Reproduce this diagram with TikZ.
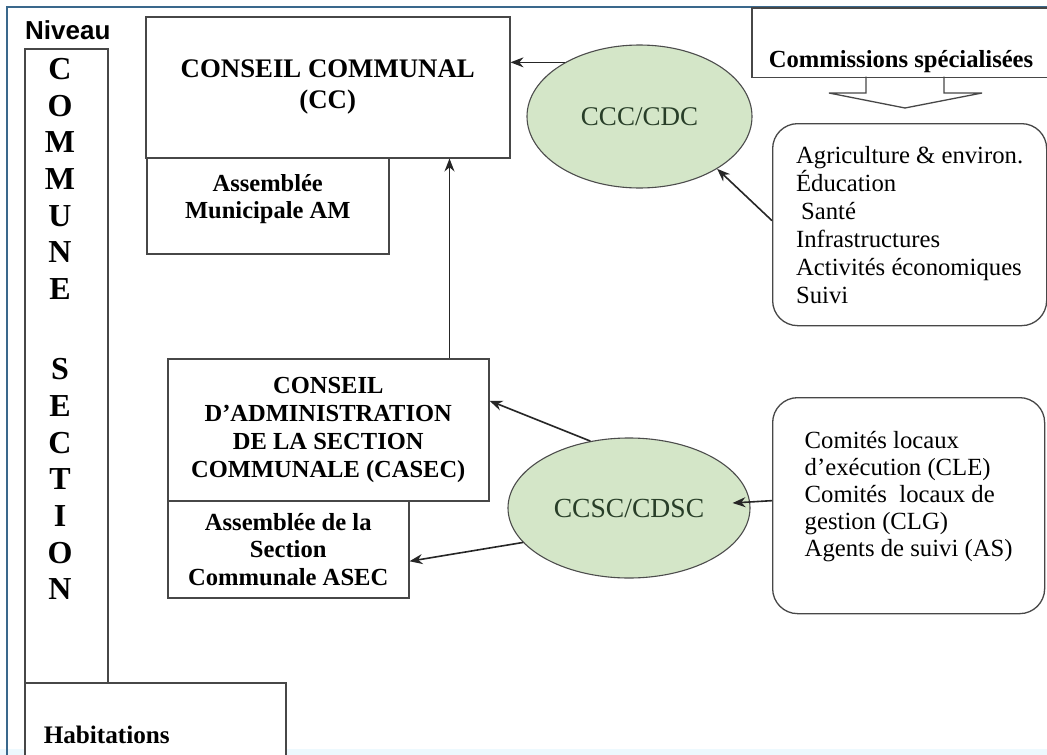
\documentclass[tikz,border=0pt]{standalone}
\usepackage{fontspec}
\setmainfont{Liberation Serif}
\newfontfamily\arialfont{Liberation Sans}
\usepackage{xcolor}
\usetikzlibrary{positioning,shapes,arrows,arrows.meta}

\definecolor{cadrebleu}{RGB}{58,104,140}
\definecolor{vertpale}{RGB}{212,230,200}
\definecolor{vertfonce}{RGB}{40,62,40}

\tikzset{
  boite/.style={draw=black!72, line width=1.5pt, fill=white, align=center, inner sep=0pt},
  bulle/.style={ellipse, draw=black!70, line width=1.1pt, fill=vertpale, text=vertfonce, inner sep=0pt},
  cadre/.style={draw=black!72, line width=1.3pt, rounded corners=25pt, fill=white, align=left, inner sep=0pt},
  fleche/.style={-{Stealth[length=13pt,width=10pt]}, line width=1.6pt, draw=black!85},
}

\begin{document}
\begin{tikzpicture}[x=1pt, y=-1pt]
        \useasboundingbox (0,0) rectangle (1047,755);
        \fill[white] (0,0) rectangle (1047,755);
        \fill[cyan!7] (0,749) rectangle (1047,755);
        \draw[cadrebleu, line width=2pt] (7,755) -- (7,7) -- (1047,7);

        % niveaux
        \node[anchor=base west, inner sep=0pt, font=\arialfont\bfseries\fontsize{26}{30}\selectfont] (niveau) at (25,39) {Niveau};
        \node[boite, minimum width=83, minimum height=634, anchor=north west] (colonne) at (24,48) {};
        \node[align=center, inner sep=0pt, font=\bfseries\fontsize{32}{36.7}\selectfont] (lettres) at (60,329)
            {C\\O\\M\\M\\U\\N\\E\\[43.3pt]S\\E\\C\\T\\I\\O\\N};
        \node[boite, minimum width=242, minimum height=104, anchor=north west, text width=223, inner xsep=19pt, align=left,
              font=\bfseries\fontsize{25.2}{28}\selectfont] (habit) at (24,682) {Habitations};

        % commune
        \node[boite, minimum width=364, minimum height=141, anchor=north west,
              font=\bfseries\fontsize{26.8}{31}\selectfont] (cc) at (145,16) {CONSEIL COMMUNAL\\(CC)};
        \node[boite, minimum width=242, minimum height=96, anchor=north west,
              font=\bfseries\fontsize{24.5}{27}\selectfont] (am) at (146,157) {Assembl\'ee\\Municipale AM\\[-8pt]};
        \node[bulle, minimum width=225, minimum height=143, font=\fontsize{27}{30}\selectfont] (ccc) at (639.5,116.5) {CCC/CDC};
        \node[boite, minimum width=310, minimum height=69.5, anchor=north west] (comm) at (751,7) {};
        \node[font=\bfseries\fontsize{24.6}{28}\selectfont, inner sep=0pt] (commtitre) at (901,62) {Commissions sp\'ecialis\'ees};
        \draw[draw=black!72, line width=1.3pt] (866,76.5) -- (866,93) -- (829,93) -- (905,108) -- (982,93) -- (944,93) -- (944,76.5);
        \node[cadre, minimum width=274, minimum height=202, anchor=north west, font=\fontsize{24.7}{28}\selectfont] (commlist) at (772,123)
            {Agriculture \& environ.\\\'Education\\\hspace{5pt}Sant\'e\\Infrastructures\\Activit\'es \'economiques\\Suivi};

        % section communale
        \node[boite, minimum width=321, minimum height=142, anchor=north west,
              font=\bfseries\fontsize{24.5}{28}\selectfont] (casec) at (167,358)
            {CONSEIL\\D'ADMINISTRATION\\DE LA SECTION\\COMMUNALE (CASEC)};
        \node[boite, minimum width=241, minimum height=97, anchor=north west,
              font=\bfseries\fontsize{24.6}{27.5}\selectfont] (asec) at (167,500)
            {Assembl\'ee de la\\Section\\Communale ASEC};
        \node[bulle, minimum width=242, minimum height=140, font=\fontsize{27.6}{30}\selectfont] (ccsc) at (629,508) {CCSC/CDSC};
        \node[cadre, minimum width=272, minimum height=216, anchor=north west, font=\fontsize{24.7}{27}\selectfont] (cle) at (772,397)
            {Comit\'es locaux\\d'ex\'ecution (CLE)\\Comit\'es\ \ locaux de\\gestion (CLG)\\Agents de suivi (AS)\\[-3pt]};

        % liens
        \draw[fleche] (ccc.144) -- (ccc.144 -| cc.east);
        \draw[fleche] ([xshift=-40pt]casec.north east) -- ([xshift=-40pt]casec.north east |- cc.south);
        \draw[fleche] ([yshift=4pt]commlist.west) -- (ccc.-34);
        \draw[fleche] ([yshift=5pt]cle.west) -- ([xshift=-18pt,yshift=5pt]ccsc.east);
        \draw[fleche] (ccsc.120) -- ([yshift=29pt]casec.east);
        \draw[fleche] (ccsc.198) -- ([yshift=-12pt]asec.east);
    \end{tikzpicture}
\end{document}
